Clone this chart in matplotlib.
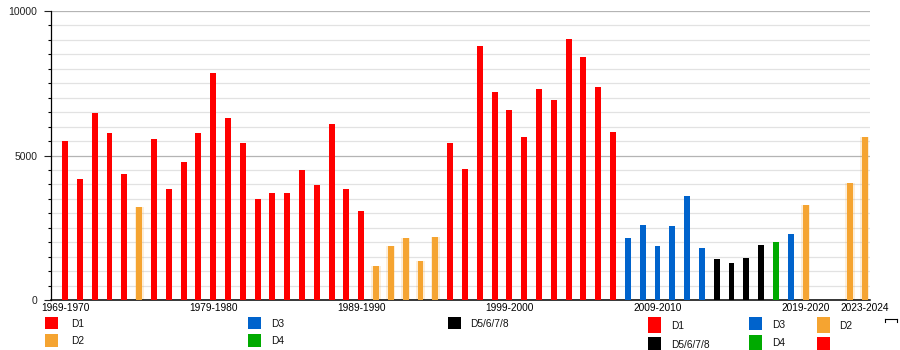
import numpy as np
import matplotlib
matplotlib.use("Agg")
import matplotlib.pyplot as plt
from matplotlib.patches import Rectangle
from matplotlib.ticker import MultipleLocator

plt.rcParams["font.family"] = ["Liberation Sans", "DejaVu Sans"]

# Average attendance per season
seasons = [f"{y}-{y + 1}" for y in range(1969, 2024)]
attendance = [
    5500, 4190, 6470, 5780, 4360, 3220, 5570, 3840, 4780, 5780,
    7850, 6300, 5430, 3500, 3700, 3700, 4500, 3980, 6090, 3840,
    3080, 1180, 1870, 2150, 1350, 2180, 5430, 4530, 8790, 7200,
    6570, 5640, 7300, 6920, 9030, 8410, 7370, 5810, 2150, 2600,
    1870, 2560, 3600, 1800, 1420, 1280, 1450, 1900, 2010, 2280,
    3290, np.nan, np.nan, 4050, 5640,
]
division = (
    ["D1"] * 5 + ["D2"] + ["D1"] * 15 + ["D2"] * 5 + ["D1"] * 12
    + ["D3"] * 6 + ["D5/6/7/8"] * 4 + ["D4", "D3"] + ["D2"] * 5
)
labelled_seasons = ["1969-1970", "1979-1980", "1989-1990", "1999-2000",
                    "2009-2010", "2019-2020", "2023-2024"]

colors = {
    "D1": "#ff0000",
    "D2": "#f5a431",
    "D3": "#0063cc",
    "D4": "#00aa00",
    "D5/6/7/8": "#000000",
}

W, H = 900, 350
fig = plt.figure(figsize=(W / 100, H / 100), dpi=100)


def fx(px):
    return px / W


def fy(py):
    return 1 - py / H


ax_left, ax_right, ax_top, ax_bottom = 51, 870, 11, 300
ax = fig.add_axes([fx(ax_left), fy(ax_bottom), fx(ax_right - ax_left),
                   (ax_bottom - ax_top) / H])

x = np.arange(len(seasons))
vals = np.array(attendance, dtype=float)
bar_colors = [colors[d] for d in division]

# soft halo around second-division bars
for xi, v, d in zip(x, vals, division):
    if d == "D2" and not np.isnan(v):
        ax.bar(xi, v, width=0.62, color="#f5a431", alpha=0.18, zorder=2,
               linewidth=0)
ax.bar(x, vals, width=0.4, color=bar_colors, zorder=3, linewidth=0)

ax.set_xlim(-0.95, 54.35)
ax.set_ylim(0, 10000)

ax.yaxis.set_major_locator(MultipleLocator(5000))
ax.yaxis.set_minor_locator(MultipleLocator(500))
ax.grid(which="minor", axis="y", color="#e2e2e2", linewidth=0.9, zorder=0)
ax.grid(which="major", axis="y", color="#b4b4b4", linewidth=0.9, zorder=1)
ax.tick_params(axis="y", which="major", length=5, width=0.8, pad=5,
               labelsize=7.5, colors="#222222")
ax.tick_params(axis="y", which="minor", length=2.5, width=0.8)

tick_pos = [seasons.index(s) for s in labelled_seasons]
ax.set_xticks(tick_pos)
ax.set_xticklabels(labelled_seasons, fontsize=7.3)
ax.tick_params(axis="x", length=0, pad=2.5)

for side in ("top", "right"):
    ax.spines[side].set_visible(False)
ax.spines["left"].set_linewidth(0.9)
ax.spines["bottom"].set_linewidth(1.1)
ax.set_axisbelow(True)

# legend blocks drawn below the axis
legend_items = [
    (45, 317, 13, 12, "D1", 71),
    (45, 334, 13, 13, "D2", 71),
    (248, 317, 13, 12, "D3", 271),
    (248, 334, 13, 13, "D4", 271),
    (448, 317, 13, 12, "D5/6/7/8", 470),
    (648, 317, 13, 16, "D1", 671),
    (648, 337, 13, 13, "D5/6/7/8", 671),
    (749, 317, 13, 13, "D3", 772),
    (749, 335, 13, 15, "D4", 772),
    (817, 317, 13, 16, "D2", 839),
    (817, 337, 13, 13, None, None),
]
for px, py, w, h, lab, tx in legend_items:
    key = lab if lab is not None else "D1"
    fig.add_artist(Rectangle((fx(px), fy(py + h)), w / W, h / H,
                             transform=fig.transFigure,
                             color=colors[key], linewidth=0))
    if lab is not None:
        fig.text(fx(tx), fy(py + h / 2 + 1), lab, fontsize=7.3,
                 va="center", ha="left", color="#111111")

# small bracket at the far right
fig.add_artist(plt.Line2D([fx(885), fx(897)], [fy(319), fy(319)],
                          transform=fig.transFigure, color="black", lw=0.8))
fig.add_artist(plt.Line2D([fx(885), fx(885)], [fy(319), fy(322)],
                          transform=fig.transFigure, color="black", lw=0.8))
fig.add_artist(plt.Line2D([fx(897), fx(897)], [fy(319), fy(322)],
                          transform=fig.transFigure, color="black", lw=0.8))

fig.savefig("out.png", dpi=100)
